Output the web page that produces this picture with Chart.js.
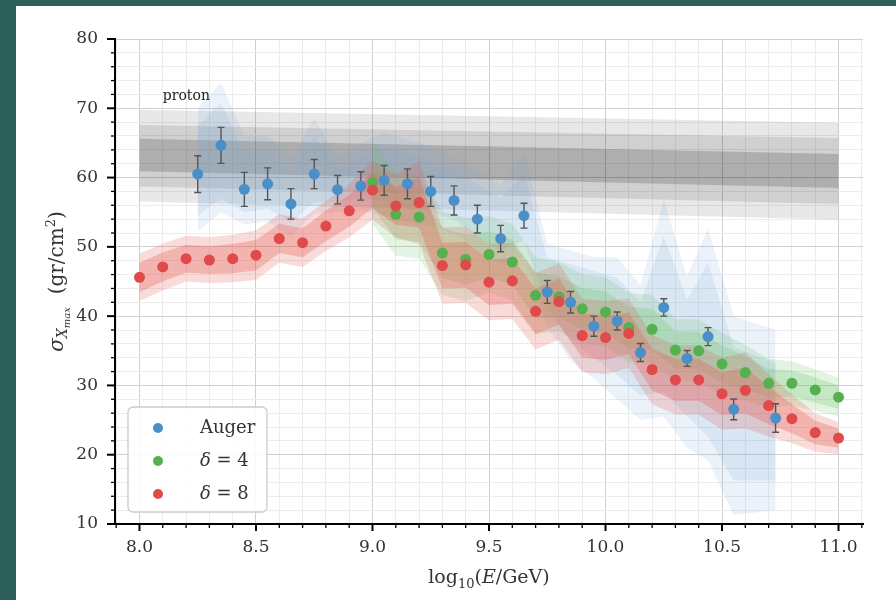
<!DOCTYPE html>
<html>
<head>
<meta charset="utf-8">
<script src="https://cdn.jsdelivr.net/npm/chart.js@4.4.0/dist/chart.umd.min.js"></script>
<style>
  html, body { margin: 0; padding: 0; background: #2d605b; }
  canvas { display: block; }
</style>
</head>
<body>
<canvas id="xmax-chart" width="896" height="600"></canvas>
<script>
// tick labels
const xMajorTicks = [8.0, 8.5, 9.0, 9.5, 10.0, 10.5, 11.0];
const yMajorTicks = [10, 20, 30, 40, 50, 60, 70, 80];

// Auger data (points + error bars + shaded band)
const augX = [8.25, 8.35, 8.45, 8.55, 8.65, 8.75, 8.85, 8.95, 9.05, 9.15, 9.25, 9.35, 9.45,
  9.55, 9.65, 9.75, 9.85, 9.95, 10.05, 10.15, 10.25, 10.35, 10.44, 10.55, 10.73];
const augY = [60.5, 64.65, 58.3, 59.1, 56.2, 60.5, 58.25, 58.8, 59.6, 59.1, 58.0, 56.7, 54.0,
  51.2, 54.5, 43.5, 42.0, 38.55, 39.3, 34.75, 41.25, 33.9, 37.05, 26.55, 25.3];
const augErr = [2.65, 2.6, 2.45, 2.3, 2.2, 2.1, 2.05, 2.05, 2.15, 2.15, 2.15, 2.1, 2.0,
  1.9, 1.8, 1.65, 1.55, 1.45, 1.3, 1.3, 1.25, 1.15, 1.3, 1.5, 2.05];
const augOuterHi = [70.0, 73.7, 66.0, 66.0, 63.0, 68.5, 63.0, 65.0, 66.5, 65.5, 64.5, 63.0, 61.0,
  59.0, 63.5, 50.5, 49.5, 48.5, 48.5, 44.5, 56.8, 45.7, 52.7, 40.0, 38.0];
const augInnerHi = [67.5, 70.8, 63.5, 63.5, 61.0, 66.0, 61.5, 63.0, 64.5, 63.5, 62.5, 61.0, 59.0,
  57.0, 60.5, 48.5, 47.5, 46.5, 45.5, 42.0, 51.5, 42.4, 47.7, 35.6, 33.2];
const augInnerLo = [54.5, 57.0, 55.0, 55.5, 53.5, 56.5, 56.5, 57.0, 56.5, 55.5, 55.0, 54.0, 51.5,
  49.5, 51.0, 41.0, 36.5, 34.0, 31.5, 28.5, 29.0, 25.5, 22.6, 16.3, 16.3];
const augOuterLo = [52.2, 55.0, 53.2, 53.7, 51.5, 54.8, 55.0, 55.2, 54.5, 53.5, 53.0, 52.0, 49.5,
  47.5, 48.5, 38.5, 33.5, 31.0, 28.0, 25.0, 25.5, 21.0, 19.2, 11.3, 12.0];

// delta = 4 model
const d4X = [9.0, 9.1, 9.2, 9.3, 9.4, 9.5, 9.6, 9.7, 9.8, 9.9, 10.0, 10.1, 10.2, 10.3, 10.4,
  10.5, 10.6, 10.7, 10.8, 10.9, 11.0];
const d4Y = [59.3, 54.7, 54.3, 49.1, 48.2, 48.9, 47.8, 43.0, 42.8, 41.05, 40.6, 38.35, 38.1, 35.1,
  35.0, 33.1, 31.85, 30.3, 30.3, 29.35, 28.3];
const d4Outer = [6.0, 6.0, 6.0, 6.0, 6.0, 5.5, 5.5, 5.5, 5.0, 5.0, 5.0, 5.0, 5.0, 4.5, 4.5,
  4.5, 4.0, 3.5, 3.2, 3.0, 2.8];
const d4Inner = [3.6, 3.6, 3.6, 3.6, 3.6, 3.3, 3.3, 3.3, 3.0, 3.0, 3.0, 3.0, 3.0, 2.7, 2.7,
  2.7, 2.4, 2.1, 1.9, 1.8, 1.7];

// delta = 8 model
const d8X = [8.0, 8.1, 8.2, 8.3, 8.4, 8.5, 8.6, 8.7, 8.8, 8.9, 9.0, 9.1, 9.2, 9.3, 9.4, 9.5,
  9.6, 9.7, 9.8, 9.9, 10.0, 10.1, 10.2, 10.3, 10.4, 10.5, 10.6, 10.7, 10.8, 10.9, 11.0];
const d8Y = [45.6, 47.1, 48.3, 48.1, 48.3, 48.8, 51.2, 50.6, 53.0, 55.2, 58.2, 55.9, 56.4, 47.3,
  47.4, 44.9, 45.1, 40.7, 42.1, 37.2, 36.9, 37.5, 32.3, 30.8, 30.8, 28.8, 29.3, 27.1, 25.2, 23.2, 22.4];
const d8Outer = [3.4, 3.4, 3.3, 3.3, 3.4, 3.6, 3.5, 3.5, 3.6, 3.8, 4.3, 4.5, 6.0, 5.5, 5.5, 5.5,
  5.5, 5.5, 5.5, 5.3, 5.3, 5.0, 5.0, 5.0, 5.0, 5.2, 5.5, 4.5, 3.5, 2.8, 2.3];
const d8Inner = [2.1, 2.1, 2.0, 2.0, 2.1, 2.2, 2.1, 2.1, 2.2, 2.3, 2.6, 2.7, 3.6, 3.3, 3.3, 3.3,
  3.3, 3.3, 3.3, 3.2, 3.2, 3.0, 3.0, 3.0, 3.0, 3.1, 3.3, 2.7, 2.1, 1.7, 1.4];

// proton band (grey)
const protonX = [8.0, 11.0];
const protonOuterHi = [69.8, 67.9];
const protonMidHi = [67.6, 65.7];
const protonInnerHi = [65.6, 63.4];
const protonInnerLo = [60.9, 58.5];
const protonMidLo = [58.7, 56.2];
const protonOuterLo = [56.55, 53.9];

const SERIF = "'DejaVu Serif', serif";
const BLUE = "#4b8fc8";
const GREEN = "#55b150";
const RED = "#e04a4a";

const near = (v, step) => Math.abs(v / step - Math.round(v / step)) < 1e-6;
const xAllTicks = [];
for (let i = 79; i <= 111; i++) xAllTicks.push(Math.round(i) / 10);
const yAllTicks = [];
for (let v = 10; v <= 80; v += 2) yAllTicks.push(v);

const pts = (xs, ys) => xs.map((x, i) => ({ x: x, y: ys[i] }));

const datasets = [];
// upper edge fills down to the next dataset (its lower edge)
function band(xs, hi, lo, color, order) {
  datasets.push({
    data: pts(xs, hi), fill: "+1", backgroundColor: color,
    borderColor: "transparent", borderWidth: 0, pointRadius: 0, order: order,
  });
  datasets.push({
    data: pts(xs, lo), fill: false,
    borderColor: "transparent", borderWidth: 0, pointRadius: 0, order: order,
  });
}

band(protonX, protonOuterHi, protonOuterLo, "rgba(0,0,0,0.09)", 100);
band(protonX, protonMidHi, protonMidLo, "rgba(0,0,0,0.10)", 99);
band(protonX, protonInnerHi, protonInnerLo, "rgba(0,0,0,0.16)", 98);
band(augX, augOuterHi, augOuterLo, "rgba(120,165,215,0.14)", 90);
band(augX, augInnerHi, augInnerLo, "rgba(120,165,215,0.16)", 89);
band(d4X, d4Y.map((v, i) => v + d4Outer[i]), d4Y.map((v, i) => v - d4Outer[i]), "rgba(100,195,95,0.18)", 80);
band(d4X, d4Y.map((v, i) => v + d4Inner[i]), d4Y.map((v, i) => v - d4Inner[i]), "rgba(100,195,95,0.24)", 79);
band(d8X, d8Y.map((v, i) => v + d8Outer[i]), d8Y.map((v, i) => v - d8Outer[i]), "rgba(228,90,80,0.22)", 70);
band(d8X, d8Y.map((v, i) => v + d8Inner[i]), d8Y.map((v, i) => v - d8Inner[i]), "rgba(228,90,80,0.30)", 69);

function markers(xs, ys, color, order) {
  datasets.push({
    data: pts(xs, ys), showLine: false, fill: false,
    pointRadius: 5.5, pointBorderWidth: 0,
    pointBackgroundColor: color, borderColor: color, order: order,
  });
  return datasets.length - 1;
}
markers(d4X, d4Y, GREEN, 3);
markers(d8X, d8Y, RED, 2);
const AUG_IDX = markers(augX, augY, BLUE, 1);

// draw mixed-style text pieces (sub/superscripts)
function drawRich(ctx, parts, x, y) {
  let w = 0;
  parts.forEach((p) => { ctx.font = p.f; w += ctx.measureText(p.t).width; });
  let cx = x - w / 2;
  parts.forEach((p) => {
    ctx.font = p.f;
    ctx.fillText(p.t, cx, y + (p.dy || 0));
    cx += ctx.measureText(p.t).width;
  });
}

const decorPlugin = {
  id: "decor",
  beforeDraw(chart) {
    const ctx = chart.ctx;
    ctx.save();
    ctx.fillStyle = "#2d605b";
    ctx.fillRect(0, 0, chart.width, chart.height);
    ctx.fillStyle = "#ffffff";
    ctx.fillRect(16, 6, chart.width - 16, chart.height - 6);
    ctx.restore();
  },
  beforeDatasetDraw(chart, args) {
    if (args.index !== AUG_IDX) return;
    const { ctx, scales: { x, y } } = chart;
    ctx.save();
    ctx.strokeStyle = "#555555";
    ctx.lineWidth = 1.4;
    augX.forEach((v, i) => {
      const px = x.getPixelForValue(v);
      const top = y.getPixelForValue(augY[i] + augErr[i]);
      const bot = y.getPixelForValue(augY[i] - augErr[i]);
      ctx.beginPath();
      ctx.moveTo(px, top); ctx.lineTo(px, bot);
      ctx.moveTo(px - 3.5, top); ctx.lineTo(px + 3.5, top);
      ctx.moveTo(px - 3.5, bot); ctx.lineTo(px + 3.5, bot);
      ctx.stroke();
    });
    ctx.restore();
  },
  afterDraw(chart) {
    const { ctx, chartArea, scales: { x, y } } = chart;
    ctx.save();

    // tick marks, major longer than minor
    ctx.strokeStyle = "#000";
    xAllTicks.forEach((v) => {
      const major = near(v, 0.5);
      const px = x.getPixelForValue(v);
      ctx.lineWidth = major ? 2 : 1.3;
      ctx.beginPath();
      ctx.moveTo(px, chartArea.bottom);
      ctx.lineTo(px, chartArea.bottom + (major ? 7 : 4));
      ctx.stroke();
    });
    yAllTicks.forEach((v) => {
      const major = v % 10 === 0;
      const py = y.getPixelForValue(v);
      ctx.lineWidth = major ? 2 : 1.3;
      ctx.beginPath();
      ctx.moveTo(chartArea.left, py);
      ctx.lineTo(chartArea.left - (major ? 8 : 4), py);
      ctx.stroke();
    });

    // axis titles
    ctx.fillStyle = "#333";
    ctx.textBaseline = "alphabetic";
    drawRich(ctx, [
      { t: "log", f: "19px " + SERIF },
      { t: "10", f: "13px " + SERIF, dy: 5 },
      { t: "(", f: "19px " + SERIF },
      { t: "E", f: "italic 19px " + SERIF },
      { t: "/GeV)", f: "19px " + SERIF },
    ], (chartArea.left + chartArea.right) / 2, 583);

    ctx.save();
    ctx.translate(63, (chartArea.top + chartArea.bottom) / 2);
    ctx.rotate(-Math.PI / 2);
    drawRich(ctx, [
      { t: "σ", f: "italic 20px " + SERIF },
      { t: "X", f: "italic 14px " + SERIF, dy: 4 },
      { t: "max", f: "italic 10px " + SERIF, dy: 7 },
      { t: "  (gr/cm", f: "20px " + SERIF },
      { t: "2", f: "13px " + SERIF, dy: -8 },
      { t: ")", f: "20px " + SERIF },
    ], 0, 0);
    ctx.restore();

    // proton label
    ctx.font = "14px " + SERIF;
    ctx.textAlign = "left";
    ctx.textBaseline = "middle";
    ctx.fillStyle = "#222";
    ctx.fillText("proton", x.getPixelForValue(8.1), y.getPixelForValue(71.7));

    // legend box
    const lx = 128, ly = 407, lw = 139, lh = 105;
    ctx.beginPath();
    ctx.roundRect(lx, ly, lw, lh, 5);
    ctx.fillStyle = "rgba(255,255,255,0.85)";
    ctx.fill();
    ctx.strokeStyle = "#cccccc";
    ctx.lineWidth = 1.3;
    ctx.stroke();
    const entries = [
      { c: BLUE, parts: [{ t: "Auger", f: "18px " + SERIF }] },
      { c: GREEN, parts: [{ t: "δ", f: "italic 18px " + SERIF }, { t: " = 4", f: "18px " + SERIF }] },
      { c: RED, parts: [{ t: "δ", f: "italic 18px " + SERIF }, { t: " = 8", f: "18px " + SERIF }] },
    ];
    entries.forEach((e, i) => {
      const cy = 428 + i * 33;
      ctx.beginPath();
      ctx.arc(158, cy, 5, 0, Math.PI * 2);
      ctx.fillStyle = e.c;
      ctx.fill();
      ctx.fillStyle = "#333";
      ctx.textBaseline = "middle";
      let cx = 200;
      e.parts.forEach((p) => {
        ctx.font = p.f;
        ctx.fillText(p.t, cx, cy);
        cx += ctx.measureText(p.t).width;
      });
    });
    ctx.restore();
  },
};

new Chart(document.getElementById("xmax-chart"), {
  type: "line",
  data: { datasets: datasets },
  options: {
    responsive: false,
    animation: false,
    events: [],
    layout: { padding: { left: 0, right: 33, top: 39, bottom: 0 } },
    elements: { line: { tension: 0 } },
    plugins: {
      legend: { display: false },
      tooltip: { enabled: false },
      filler: { propagate: false },
    },
    scales: {
      x: {
        type: "linear",
        min: 7.895,
        max: 11.105,
        afterBuildTicks: (axis) => { axis.ticks = xAllTicks.map((v) => ({ value: v })); },
        afterFit: (scale) => { scale.height = 76; },
        grid: {
          drawTicks: false,
          lineWidth: 1,
          color: (c) => (c.tick && near(c.tick.value, 0.5) ? "#d0d0d0" : "#ececec"),
        },
        border: { color: "#000", width: 2 },
        ticks: {
          autoSkip: false,
          maxRotation: 0,
          padding: 13,
          color: "#333",
          font: { family: SERIF, size: 17 },
          callback: (v) => (xMajorTicks.some((t) => Math.abs(t - v) < 1e-6) ? v.toFixed(1) : ""),
        },
      },
      y: {
        type: "linear",
        min: 10,
        max: 80,
        afterBuildTicks: (axis) => { axis.ticks = yAllTicks.map((v) => ({ value: v })); },
        afterFit: (scale) => { scale.width = 115; },
        grid: {
          drawTicks: false,
          lineWidth: 1,
          color: (c) => (c.tick && c.tick.value % 10 === 0 ? "#d0d0d0" : "#ececec"),
        },
        border: { color: "#000", width: 2 },
        ticks: {
          autoSkip: false,
          padding: 17,
          color: "#333",
          font: { family: SERIF, size: 17 },
          callback: (v) => (yMajorTicks.includes(v) ? String(v) : ""),
        },
      },
    },
  },
  plugins: [decorPlugin],
});
</script>
</body>
</html>
